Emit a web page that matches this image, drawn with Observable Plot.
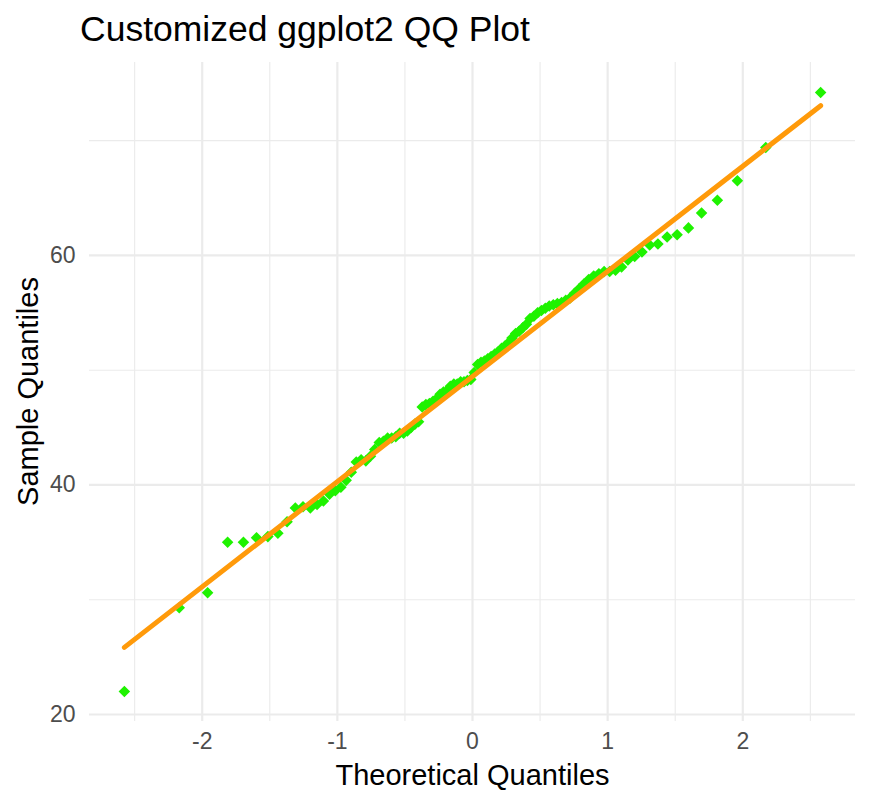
<!DOCTYPE html>
<html>
<head>
<meta charset="utf-8">
<script src="https://cdn.jsdelivr.net/npm/d3@7"></script>
<script src="https://cdn.jsdelivr.net/npm/@observablehq/plot@0.6"></script>
<style>
  html, body { margin: 0; padding: 0; background: #fff; }
  #wrap { width: 874px; height: 806px; position: relative; overflow: hidden; font-family: "Liberation Sans", Arial, sans-serif; }
  #title { position: absolute; left: 80px; top: 12px; font-size: 35.5px; color: #000; line-height: 35px; white-space: nowrap; }
  #chart { position: absolute; left: 0; top: 52px; }
  #ylab { position: absolute; left: -172px; top: 377px; width: 400px; height: 29px; line-height: 29px; text-align: center; font-size: 29px; color: #000; transform: rotate(-90deg); white-space: nowrap; }
</style>
</head>
<body>
<div id="wrap">
  <div id="title">Customized ggplot2 QQ Plot</div>
  <div id="chart"></div>
  <div id="ylab"></div>
</div>
<script>
// Theoretical normal quantiles for n = 100
const theoretical = [
  -2.576,-2.170,-1.960,-1.812,-1.695,-1.598,-1.514,-1.440,-1.372,-1.311,
  -1.254,-1.200,-1.150,-1.103,-1.058,-1.015,-0.974,-0.935,-0.897,-0.860,
  -0.824,-0.789,-0.755,-0.723,-0.690,-0.659,-0.628,-0.598,-0.568,-0.539,
  -0.510,-0.482,-0.454,-0.426,-0.399,-0.372,-0.345,-0.319,-0.292,-0.266,
  -0.240,-0.215,-0.189,-0.164,-0.138,-0.113,-0.088,-0.063,-0.038,-0.0125,
  0.0125,0.038,0.063,0.088,0.113,0.138,0.164,0.189,0.215,0.240,
  0.266,0.292,0.319,0.345,0.372,0.399,0.426,0.454,0.482,0.510,
  0.539,0.568,0.598,0.628,0.659,0.690,0.723,0.755,0.789,0.824,
  0.860,0.897,0.935,0.974,1.015,1.058,1.103,1.150,1.200,1.254,
  1.311,1.372,1.440,1.514,1.598,1.695,1.812,1.960,2.170,2.576
];
// Sample quantiles (sorted)
const sample = [
  22.0,29.3,30.6,35.0,35.0,35.4,35.5,35.8,36.8,38.0,
  38.1,38.0,38.3,38.6,39.2,39.5,39.8,40.4,41.1,42.0,
  42.2,42.1,42.5,43.1,43.7,43.8,44.1,44.1,44.2,44.5,
  44.5,44.7,45.0,45.3,45.5,46.8,47.0,47.1,47.3,47.5,
  47.9,48.1,48.2,48.6,48.8,48.8,49.0,49.0,49.1,49.2,
  49.8,50.5,50.7,50.8,51.0,51.2,51.4,51.6,51.9,52.1,
  52.4,52.8,53.2,53.4,53.7,54.0,54.5,54.7,55.0,55.2,
  55.4,55.6,55.7,55.8,55.9,56.1,56.3,56.7,57.1,57.5,
  57.9,58.2,58.4,58.6,58.6,58.7,59.0,59.6,59.9,60.3,
  60.9,61.0,61.6,61.8,62.4,63.7,64.8,66.5,69.4,74.2
];
// Reference line endpoints (qq line)
const lineX = [-2.576, 2.576];
const lineY = [25.85, 73.05];

const xMajor = [-2, -1, 0, 1, 2];
const xMinor = [-2.5, -1.5, -0.5, 0.5, 1.5, 2.5];
const yMajor = [20, 40, 60];
const yMinor = [30, 50, 70];
const xLabel = "Theoretical Quantiles";
const yLabel = "Sample Quantiles";

const points = theoretical.map((t, i) => ({x: t, y: sample[i]}));
const qqLine = lineX.map((x, i) => ({x, y: lineY[i]}));

const font = "'Liberation Sans', Arial, sans-serif";
const chart = Plot.plot({
  width: 874,
  height: 754,
  marginLeft: 89,
  marginRight: 19,
  marginTop: 10,
  marginBottom: 85,
  style: {fontFamily: font, background: "#fff", overflow: "visible"},
  x: {domain: [-2.834, 2.834]},
  y: {domain: [19.39, 76.81]},
  marks: [
    Plot.gridX(xMinor, {stroke: "#ebebeb", strokeOpacity: 1, strokeWidth: 1.1}),
    Plot.gridY(yMinor, {stroke: "#ebebeb", strokeOpacity: 1, strokeWidth: 1.1}),
    Plot.gridX(xMajor, {stroke: "#ebebeb", strokeOpacity: 1, strokeWidth: 2.2}),
    Plot.gridY(yMajor, {stroke: "#ebebeb", strokeOpacity: 1, strokeWidth: 2.2}),
    Plot.axisX(xMajor, {tickSize: 0, tickPadding: 11, fontSize: 23, fill: "#4d4d4d", label: null, tickFormat: d => d < 0 ? "-" + Math.abs(d) : String(d)}),
    Plot.axisY(yMajor, {tickSize: 0, tickPadding: 14, fontSize: 23, fill: "#4d4d4d", label: null}),
    Plot.dot(points, {x: "x", y: "y", symbol: "diamond2", r: 5.2, fill: "#1ff200", stroke: "none"}),
    Plot.line(qqLine, {x: "x", y: "y", stroke: "#ff9a0a", strokeWidth: 5}),
    Plot.text([xLabel], {frameAnchor: "bottom", dy: 63, fontSize: 29, fill: "#000", text: d => d})
  ]
});
document.getElementById("chart").appendChild(chart);
document.getElementById("ylab").textContent = yLabel;
</script>
</body>
</html>
